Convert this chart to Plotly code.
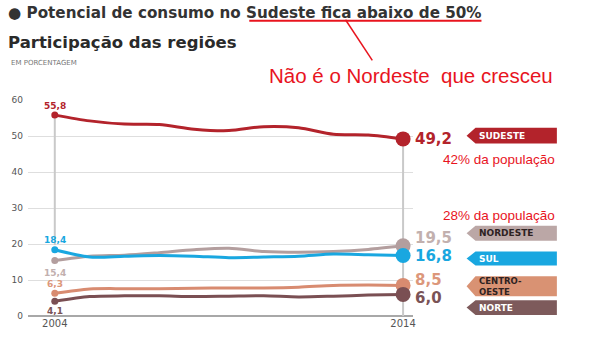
import plotly.graph_objects as go

# Share of consumption potential by region (%), 2004-2014
years = [2004, 2005, 2006, 2007, 2008, 2009, 2010, 2011, 2012, 2013, 2014]
sudeste = [55.8, 54.2, 53.3, 53.2, 51.9, 51.5, 52.6, 52.3, 50.5, 50.3, 49.2]
nordeste = [15.4, 16.6, 16.9, 17.6, 18.4, 18.8, 17.9, 17.7, 17.9, 18.5, 19.5]
sul = [18.4, 16.4, 16.6, 16.8, 16.6, 16.2, 16.4, 16.6, 17.2, 17.0, 16.8]
centro_oeste = [6.3, 7.5, 7.6, 7.6, 7.7, 7.8, 7.8, 8.0, 8.5, 8.6, 8.5]
norte = [4.1, 5.4, 5.6, 5.6, 5.4, 5.5, 5.6, 5.3, 5.5, 5.8, 6.0]

region_names = ["SUDESTE", "NORDESTE", "SUL", "CENTRO-<br>OESTE", "NORTE"]
start_labels = ["55,8", "15,4", "18,4", "6,3", "4,1"]
end_labels = ["49,2", "19,5", "16,8", "8,5", "6,0"]
y_ticks = [0, 10, 20, 30, 40, 50, 60]

series = [sudeste, nordeste, sul, centro_oeste, norte]
line_colors = ["#b3232b", "#b39e9e", "#19a7e0", "#d88b70", "#7a4f53"]
label_colors = ["#b3232b", "#c2b0ae", "#19a7e0", "#dc977b", "#7a5356"]
tag_fills = ["#b3232b", "#bba7a6", "#19a7e0", "#d99273", "#7d5a5b"]
tag_text = ["white", "#2e2222", "white", "#2e2222", "white"]

# plot-area pixel frame
PL, PR, PT, PB = 25, 413, 100, 318


def px(x):
    return (x - PL) / (PR - PL)


def py(y):
    return (PB - y) / (PB - PT)


fig = go.Figure()

# vertical guides at the first and last year
fig.add_trace(go.Scatter(x=[years[0], years[0]], y=[sul[0] + 1.3, sudeste[0]],
                         mode="lines", line=dict(color="#c9c9c9", width=2),
                         hoverinfo="skip", showlegend=False))
fig.add_trace(go.Scatter(x=[years[-1], years[-1]], y=[0, sudeste[-1]],
                         mode="lines", line=dict(color="#c9c9c9", width=2),
                         hoverinfo="skip", showlegend=False))

for vals, col in zip(series, line_colors):
    fig.add_trace(go.Scatter(x=years, y=vals, mode="lines",
                             line=dict(color=col, width=3, shape="spline", smoothing=0.8),
                             hoverinfo="skip", showlegend=False))
    fig.add_trace(go.Scatter(x=[years[0]], y=[vals[0]], mode="markers",
                             marker=dict(color=col, size=7),
                             hoverinfo="skip", showlegend=False))
    fig.add_trace(go.Scatter(x=[years[-1]], y=[vals[-1]], mode="markers",
                             marker=dict(color=col, size=15),
                             hoverinfo="skip", showlegend=False))

annotations = []
shapes = []

# start-year value labels
start_shift = [9, -12, 10, 9, -10]
for i, vals in enumerate(series):
    annotations.append(dict(x=years[0], y=vals[0], xref="x", yref="y",
                            text=f"<b>{start_labels[i]}</b>", showarrow=False,
                            font=dict(family="DejaVu Sans", size=9, color=label_colors[i]),
                            yshift=start_shift[i]))

# end-year value labels
end_shift = [0, 8, 0, 5, -4]
for i, vals in enumerate(series):
    annotations.append(dict(x=years[-1], y=vals[-1], xref="x", yref="y",
                            text=f"<b>{end_labels[i]}</b>", showarrow=False,
                            xanchor="left", xshift=10, yshift=end_shift[i],
                            font=dict(family="DejaVu Sans", size=15, color=label_colors[i])))

# arrow-shaped region tags
tag_rows = [(128, 144), (227, 242), (253, 267), (278, 298), (302, 317)]
tx0, tx1 = 467, 558
for i, (y0, y1) in enumerate(tag_rows):
    ym = (y0 + y1) / 2
    path = (f"M {px(tx0)} {py(ym)} L {px(tx0 + 9)} {py(y0)} L {px(tx1)} {py(y0)} "
            f"L {px(tx1)} {py(y1)} L {px(tx0 + 9)} {py(y1)} Z")
    shapes.append(dict(type="path", path=path, xref="paper", yref="paper",
                       fillcolor=tag_fills[i], line=dict(width=0), layer="above"))
    annotations.append(dict(x=px(tx0 + 10), y=py(ym), xref="paper", yref="paper",
                            text=f"<b>{region_names[i]}</b>", showarrow=False,
                            xanchor="left", yanchor="middle", align="left",
                            font=dict(family="DejaVu Sans", size=9 if i != 3 else 8.5,
                                      color=tag_text[i])))

# header texts
annotations += [
    dict(x=px(3), y=py(12), xref="paper", yref="paper", xanchor="left", yanchor="middle",
         text="<b>● Potencial de consumo no Sudeste fica abaixo de 50%</b>", showarrow=False,
         font=dict(family="DejaVu Sans", size=15.2, color="#333333")),
    dict(x=px(3), y=py(42), xref="paper", yref="paper", xanchor="left", yanchor="middle",
         text="<b>Participação das regiões</b>", showarrow=False,
         font=dict(family="DejaVu Sans", size=16.5, color="#2a2a2a")),
    dict(x=px(6), y=py(63), xref="paper", yref="paper", xanchor="left", yanchor="middle",
         text="EM PORCENTAGEM", showarrow=False,
         font=dict(family="DejaVu Sans", size=7, color="#777777")),
    dict(x=px(266), y=py(75), xref="paper", yref="paper", xanchor="left", yanchor="middle",
         text="Não é o Nordeste  que cresceu", showarrow=False,
         font=dict(family="Liberation Sans", size=20.5, color="#e8141e")),
    dict(x=px(558), y=py(160), xref="paper", yref="paper", xanchor="right", yanchor="middle",
         text="42% da população", showarrow=False,
         font=dict(family="Liberation Sans", size=13.5, color="#e8141e")),
    dict(x=px(558), y=py(217), xref="paper", yref="paper", xanchor="right", yanchor="middle",
         text="28% da população", showarrow=False,
         font=dict(family="Liberation Sans", size=13.5, color="#e8141e")),
]

# red underline and pointer line
shapes += [
    dict(type="line", xref="paper", yref="paper", x0=px(248), x1=px(482), y0=py(20), y1=py(20),
         line=dict(color="#e8141e", width=2)),
    dict(type="line", xref="paper", yref="paper", x0=px(345), x1=px(372), y0=py(19), y1=py(60),
         line=dict(color="#e8141e", width=1.5)),
]

x0_px, x1_px = 52, 403
per_year = (x1_px - x0_px) / (years[-1] - years[0])
x_lo = years[0] - (x0_px - PL) / per_year
x_hi = years[-1] + (PR - x1_px) / per_year

fig.update_layout(
    width=600, height=341,
    margin=dict(l=PL, r=600 - PR, t=PT, b=341 - PB),
    paper_bgcolor="white", plot_bgcolor="white",
    annotations=annotations, shapes=shapes,
    xaxis=dict(range=[x_lo, x_hi], tickvals=[years[0], years[-1]],
               ticktext=[str(years[0]), str(years[-1])], showgrid=False, zeroline=False,
               showline=False, ticks="", tickfont=dict(family="DejaVu Sans", size=10, color="#555555"),
               fixedrange=True),
    yaxis=dict(range=[0, 60], tickvals=y_ticks, showgrid=True, gridcolor="#dedede",
               gridwidth=1, zeroline=True, zerolinecolor="#a8a8a8", zerolinewidth=1.5,
               ticks="", tickfont=dict(family="DejaVu Sans", size=9, color="#555555"),
               ticklabelstandoff=4, fixedrange=True),
)

fig.write_html("out.html")
